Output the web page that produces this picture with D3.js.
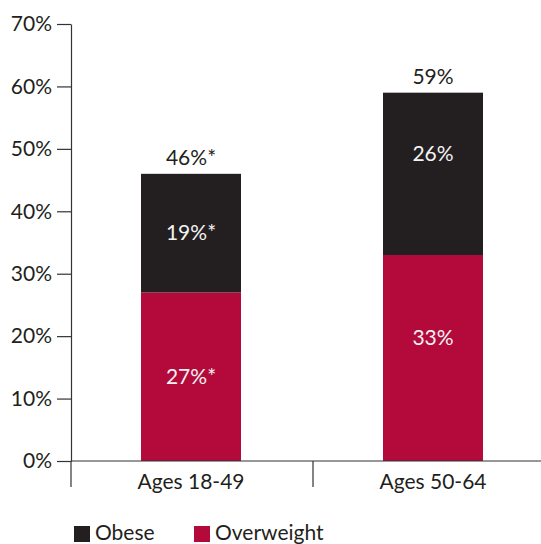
<!DOCTYPE html>
<html><head><meta charset="utf-8">
<script src="https://cdn.jsdelivr.net/npm/d3@7"></script>
<style>body{margin:0;background:#fff}svg{display:block}text{font-family:Lato,"Open Sans",sans-serif}</style>
</head><body><svg id="c" width="541" height="544"></svg>
<script>
const categories = ["Ages 18-49", "Ages 50-64"];
const overweight = [27, 33];
const obese = [19, 26];
const totals = [46, 59];
const overweightLabels = ["27%*", "33%"];
const obeseLabels = ["19%*", "26%"];
const totalLabels = ["46%*", "59%"];
const yTicks = [0, 10, 20, 30, 40, 50, 60, 70];
const seriesNames = ["Obese", "Overweight"];

const RED = "#b30a3b", DARK = "#231f20", TXT = "#231f20";
const FS = 21;
const svg = d3.select("#c");
const y = d3.scaleLinear().domain([0, 70]).range([461, 24]);
const x = d3.scaleBand().domain(categories).range([71, 553]).paddingInner(0.5868).paddingOuter(0.2893);

// y axis
const yAxis = svg.append("g").attr("transform", "translate(71,0)")
  .call(d3.axisLeft(y).tickValues(yTicks).tickFormat(d => d + "%").tickSize(14).tickSizeOuter(0).tickPadding(5));
yAxis.select(".domain").attr("stroke", "#333").attr("stroke-width", 1.2);
yAxis.selectAll(".tick line").attr("stroke", "#333").attr("stroke-width", 1.2);
yAxis.selectAll("text").attr("font-size", FS).attr("fill", TXT).attr("font-family", "Lato");

// bars
categories.forEach((c, i) => {
  svg.append("rect").attr("x", x(c)).attr("width", x.bandwidth())
    .attr("y", y(overweight[i])).attr("height", y(0) - y(overweight[i])).attr("fill", RED);
  svg.append("rect").attr("x", x(c)).attr("width", x.bandwidth())
    .attr("y", y(totals[i])).attr("height", y(overweight[i]) - y(totals[i])).attr("fill", DARK);
});

// x axis
svg.append("line").attr("x1", 71).attr("x2", 541).attr("y1", y(0)).attr("y2", y(0)).attr("stroke", "#333").attr("stroke-width", 1.2);
[71, 313].forEach(px => svg.append("line").attr("x1", px).attr("x2", px).attr("y1", y(0)).attr("y2", 487).attr("stroke", "#333").attr("stroke-width", 1.2));
categories.forEach(c => svg.append("text").attr("x", x(c) + x.bandwidth() / 2).attr("y", 489)
  .attr("text-anchor", "middle").attr("font-size", FS).attr("fill", TXT).text(c));

// labels
const labelShift = [0, -20];
categories.forEach((c, i) => {
  const cx = x(c) + x.bandwidth() / 2;
  svg.append("text").attr("x", cx).attr("y", y(totals[i]) - 9).attr("text-anchor", "middle")
    .attr("font-size", FS).attr("fill", TXT).text(totalLabels[i]);
  svg.append("text").attr("x", cx).attr("y", (y(totals[i]) + y(overweight[i])) / 2 + labelShift[i])
    .attr("dy", "0.35em").attr("text-anchor", "middle").attr("font-size", FS).attr("fill", "#f2f2f2").text(obeseLabels[i]);
  svg.append("text").attr("x", cx).attr("y", (y(overweight[i]) + y(0)) / 2 + labelShift[i])
    .attr("dy", "0.35em").attr("text-anchor", "middle").attr("font-size", FS).attr("fill", "#f2f2f2").text(overweightLabels[i]);
});

// legend
const lg = [{n: seriesNames[0], c: DARK, x: 74}, {n: seriesNames[1], c: RED, x: 194}];
lg.forEach(d => {
  svg.append("rect").attr("x", d.x).attr("y", 526).attr("width", 16).attr("height", 16).attr("fill", d.c);
  svg.append("text").attr("x", d.x + 21).attr("y", 540).attr("font-size", FS).attr("fill", TXT).text(d.n);
});
</script></body></html>
